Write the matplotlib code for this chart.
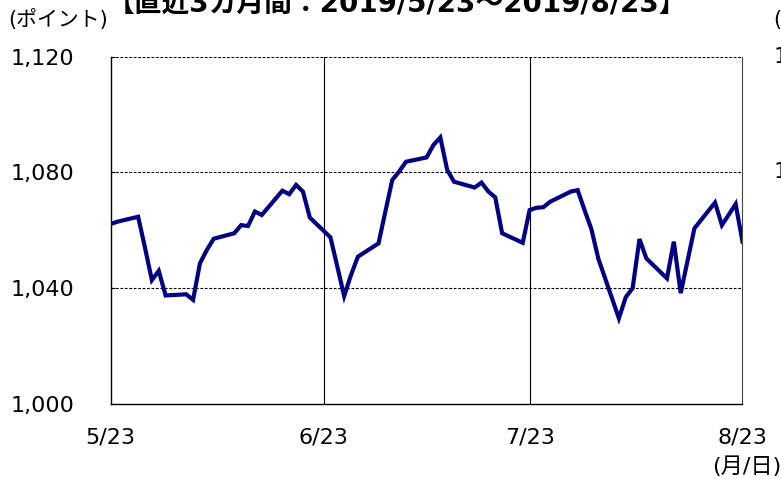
import numpy as np
import matplotlib
matplotlib.use("Agg")
import matplotlib.pyplot as plt

plt.rcParams['font.family'] = ['DejaVu Sans', 'Noto Sans CJK JP']

# trading days (month/day, 2019) and index level
dates = ['05-23', '05-24', '05-27', '05-28', '05-29', '05-30', '05-31',
         '06-03', '06-04', '06-05', '06-06', '06-07',
         '06-10', '06-11', '06-12', '06-13', '06-14',
         '06-17', '06-18', '06-19', '06-20', '06-21',
         '06-24', '06-25', '06-26', '06-27', '06-28',
         '07-01', '07-02', '07-03', '07-04', '07-05',
         '07-08', '07-09', '07-10', '07-11', '07-12',
         '07-15', '07-16', '07-17', '07-18', '07-19',
         '07-22', '07-23', '07-24', '07-25', '07-26',
         '07-29', '07-30', '07-31', '08-01', '08-02',
         '08-05', '08-06', '08-07', '08-08', '08-09',
         '08-12', '08-13', '08-14', '08-15', '08-16',
         '08-19', '08-20', '08-21', '08-22', '08-23']
values = [1062.2, 1063.0, 1064.7, 1054.0, 1042.8, 1046.0, 1037.5,
          1037.9, 1036.0, 1048.6, 1053.2, 1057.1,
          1059.0, 1061.8, 1061.5, 1066.5, 1065.3,
          1073.7, 1072.5, 1075.7, 1073.4, 1064.4,
          1057.6, 1047.5, 1037.3, 1044.6, 1050.9,
          1055.5, 1066.5, 1077.4, 1080.3, 1083.7,
          1085.2, 1089.5, 1092.1, 1080.9, 1076.8,
          1074.8, 1076.5, 1073.4, 1071.4, 1059.0,
          1055.7, 1067.0, 1067.8, 1068.0, 1069.9,
          1073.4, 1073.9, 1067.0, 1060.4, 1050.3,
          1029.6, 1036.9, 1040.0, 1057.0, 1050.3,
          1043.4, 1056.1, 1038.3, 1049.5, 1060.7,
          1069.6, 1061.8, 1065.4, 1069.1, 1056.1]

tick_dates = ['05-23', '06-23', '07-23', '08-23']
tick_labels = ['5/23', '6/23', '7/23', '8/23']
y_ticks = [1000, 1040, 1080, 1120]
y_labels = ['1,000', '1,040', '1,080', '1,120']

x = np.array(['2019-' + d for d in dates], dtype='datetime64[D]')
xt = np.array(['2019-' + d for d in tick_dates], dtype='datetime64[D]')

fig = plt.figure(figsize=(7.81, 4.79), dpi=100)
ax = fig.add_axes([0.1417, 0.1566, 0.8090, 0.7250])

# grid: dashed horizontal, solid vertical at month marks
for yv in y_ticks[1:]:
    ax.axhline(yv, color='black', lw=0.8, ls=(0, (2.5, 1.5)), zorder=1)
for xv in xt[1:3]:
    ax.axvline(xv, color='black', lw=0.8, zorder=1)

ax.plot(x, values, color='#000080', lw=3.0, solid_joinstyle='miter', zorder=3)

ax.set_xlim(xt[0], xt[-1])
ax.set_ylim(1000, 1120)
ax.set_xticks(xt)
ax.set_xticklabels(tick_labels)
ax.set_yticks(y_ticks)
ax.set_yticklabels(y_labels)
ax.tick_params(axis='x', length=0, pad=17, labelsize=16)
ax.tick_params(axis='y', direction='in', length=3, width=0.8, pad=26,
               labelsize=16)

ax.spines['top'].set_visible(False)
ax.spines['right'].set_color('#444444')
ax.spines['right'].set_linewidth(0.8)
for s in ['left', 'bottom']:
    ax.spines[s].set_linewidth(1.0)

# titles and unit labels
fig.text(0.508, 1 - 11 / 479, '【直近3カ月間：2019/5/23～2019/8/23】',
         ha='center', va='baseline', fontsize=20, fontweight='bold')
fig.text(8 / 781, 1 - 20 / 479, '(ポイント)', ha='left', va='center',
         fontsize=15)
fig.text(1.0, 1 - 467 / 479, '(月/日)', ha='right', va='center', fontsize=16)

# edge of the neighbouring chart
fig.text(773 / 781, 1 - 20 / 479, '(ポイント)', ha='left', va='center',
         fontsize=15)
fig.text(774 / 781, 1 - 57 / 479, '1,120', ha='left', va='center', fontsize=16)
fig.text(774 / 781, 1 - 172 / 479, '1,080', ha='left', va='center', fontsize=16)

fig.savefig('out.png', dpi=100)
